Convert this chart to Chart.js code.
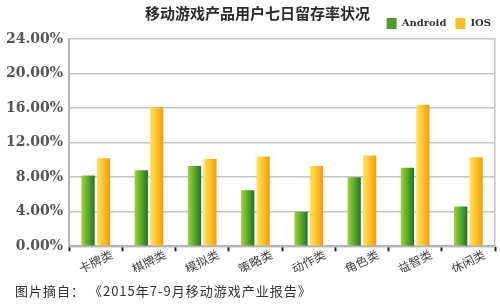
<!DOCTYPE html>
<html>
<head>
<meta charset="utf-8">
<script src="https://cdn.jsdelivr.net/npm/chart.js@4/dist/chart.umd.min.js"></script>
<style>
  html, body { margin: 0; padding: 0; background: #fff; }
  #wrap { position: relative; width: 500px; height: 305px; }
  #c { position: absolute; left: 0; top: 0; }
  #footer { position: absolute; left: 15px; top: 281px; font: 13px "Noto Sans CJK SC", sans-serif; color: #333; letter-spacing: 1px; white-space: nowrap; }
</style>
</head>
<body>
<div id="wrap">
  <canvas id="c" width="500" height="305"></canvas>
  <div id="footer">图片摘自： 《2015年7-9月移动游戏产业报告》</div>
</div>
<script>
const categories = ['卡牌类', '棋牌类', '模拟类', '策略类', '动作类', '角色类', '益智类', '休闲类'];
const androidValues = [8.2, 8.8, 9.3, 6.5, 4.0, 8.0, 9.1, 4.6];
const iosValues = [10.2, 16.1, 10.1, 10.4, 9.3, 10.5, 16.4, 10.3];
const seriesNames = ['Android', 'IOS'];
const yTicks = [0, 4, 8, 12, 16, 20, 24];

const flatColors = ['#4f9a2c', '#fbbf2a'];
const gradStops = [
  ['#a2d23c', '#5ea82c', '#1d7628'],
  ['#ffe46a', '#fcc22a', '#f29c12']
];

const gradientPlugin = {
  id: 'barGradient',
  afterLayout(chart) {
    const t = chart.titleBlock;
    if (t) { t.left += 10; t.right += 10; }
    const l = chart.legend;
    if (l) { l.left += 5; l.right += 5; }
  },
  beforeDatasetsDraw(chart) {
    const ctx = chart.ctx;
    chart.data.datasets.forEach((ds, di) => {
      const meta = chart.getDatasetMeta(di);
      meta.data.forEach(el => {
        const p = el.getProps(['x', 'width'], true);
        const g = ctx.createLinearGradient(p.x - p.width / 2, 0, p.x + p.width / 2, 0);
        g.addColorStop(0, gradStops[di][0]);
        g.addColorStop(0.5, gradStops[di][1]);
        g.addColorStop(1, gradStops[di][2]);
        if (el.options && !Object.isFrozen(el.options)) el.options.backgroundColor = g;
      });
    });
  }
};

new Chart(document.getElementById('c'), {
  type: 'bar',
  data: {
    labels: categories,
    datasets: [
      { label: seriesNames[0], data: androidValues, backgroundColor: (c) => flatColors[0] },
      { label: seriesNames[1], data: iosValues, backgroundColor: (c) => flatColors[1] }
    ]
  },
  plugins: [gradientPlugin],
  options: {
    responsive: false,
    animation: false,
    datasets: { bar: { categoryPercentage: 0.58, barPercentage: 0.86 } },
    layout: { padding: { left: 0, right: 5, top: 0, bottom: 33 } },
    plugins: {
      title: {
        display: true,
        text: '移动游戏产品用户七日留存率状况',
        color: '#2a2a2a',
        font: { family: '"Noto Sans CJK SC"', size: 15, weight: 'bold' },
        padding: { top: 4, bottom: -13 }
      },
      legend: {
        display: true,
        position: 'top',
        align: 'end',
        labels: {
          boxWidth: 10,
          boxHeight: 11,
          padding: 9,
          color: '#333',
          font: { family: '"DejaVu Serif"', size: 10, weight: 'bold' }
        }
      },
      tooltip: { enabled: false }
    },
    scales: {
      x: {
        grid: { display: true, drawOnChartArea: false, drawTicks: true, tickLength: 5, tickColor: '#222', tickWidth: 2, offset: true },
        border: { display: true, color: '#b5b5b5', width: 2 },
        ticks: {
          color: '#444',
          font: { family: '"Noto Sans CJK SC"', size: 12 },
          minRotation: 26,
          maxRotation: 26,
          labelOffset: 16,
          padding: -4
        }
      },
      y: {
        min: 0,
        max: 24,
        afterBuildTicks(axis) { axis.ticks = yTicks.map(v => ({ value: v })); },
        grid: { color: '#c4c4c4', lineWidth: 1.5, drawTicks: false },
        border: { display: true, color: '#b5b5b5', width: 2 },
        ticks: {
          padding: 6,
          color: '#555',
          font: { family: '"DejaVu Serif"', size: 14, weight: 'bold' },
          callback: (v) => Number(v).toFixed(2) + '%'
        }
      },
      y2: {
        position: 'right',
        min: 0,
        max: 24,
        grid: { drawOnChartArea: false, drawTicks: false },
        border: { display: true, color: '#c4c4c4', width: 1.5 },
        ticks: { display: false }
      }
    }
  }
});
</script>
</body>
</html>
